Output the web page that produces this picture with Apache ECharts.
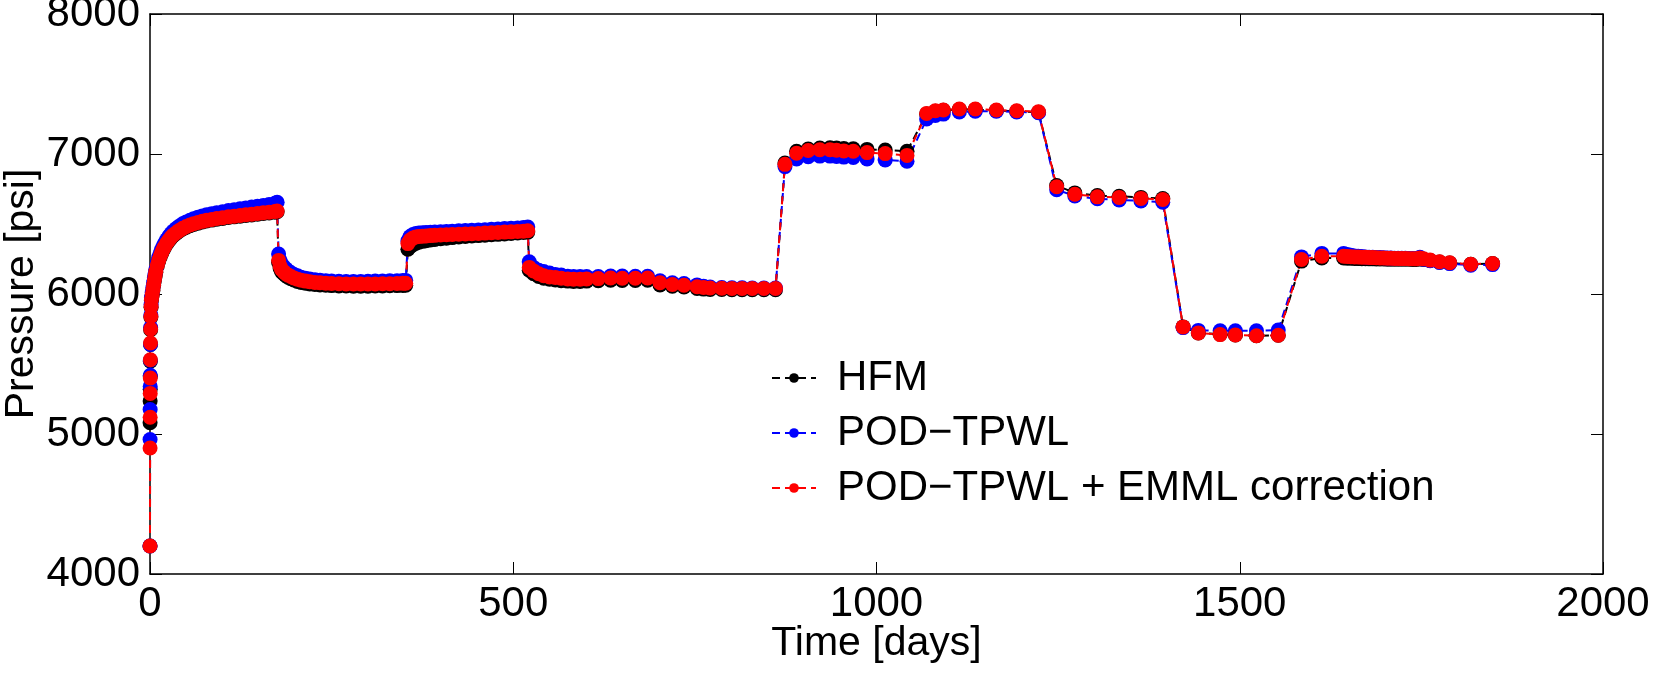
<!DOCTYPE html>
<html><head><meta charset="utf-8">
<script src="https://cdn.jsdelivr.net/npm/echarts@6/dist/echarts.min.js"></script>
<style>html,body{margin:0;padding:0;background:#fff}#c{width:1674px;height:684px}</style>
</head><body><div id="c"></div>
<script>
// ---- time steps (days), per control period ----
const daysP1 = [0, 0.1, 0.2, 0.3, 0.4, 0.5, 0.7, 0.9, 1.2, 1.5, 2, 3, 4, 5, 6, 7, 8, 10, 12, 14, 16, 18, 20, 23, 26, 29, 32, 36, 40, 45, 50, 55, 60, 66, 72, 78, 85, 92, 100, 108, 116, 124, 132, 140, 148, 156, 164, 172, 175];
const daysP2 = [177, 179, 181, 184, 187, 190, 194, 198, 203, 208, 214, 220, 227, 234, 242, 250, 260, 270, 280, 290, 300, 310, 320, 330, 340, 348, 352];
const daysP3 = [355, 358, 362, 366, 370, 375, 380, 386, 392, 400, 408, 416, 425, 434, 443, 452, 461, 470, 479, 488, 497, 506, 514, 520];
const daysP4 = [522, 528, 535, 542, 550, 558, 566, 575, 583, 592, 601, 617, 634, 650, 668, 685, 702, 719, 735, 753, 762, 771, 787, 801, 815, 829, 845, 861];
const daysP5 = [874, 890, 906, 922, 936, 945, 955, 968, 987, 1012, 1042];
const daysP6 = [1069, 1081, 1092, 1114, 1136, 1165, 1193, 1223];
const daysP7 = [1248, 1273, 1304, 1334, 1364, 1394];
const daysP8 = [1422, 1443, 1473, 1494, 1523, 1553];
const daysP9 = [1585, 1613, 1643, 1648, 1653, 1658, 1663, 1668, 1673, 1678, 1683, 1688, 1693, 1698, 1703, 1708, 1713, 1718, 1723, 1728, 1733, 1738, 1743, 1748, 1753, 1762, 1775, 1789, 1818, 1848];

// ---- HFM pressure (psi) ----
const hfmP1 = [4200, 5080, 5236, 5320, 5410, 5520, 5640, 5745, 5835, 5905, 5955, 5990, 6025, 6060, 6095, 6125, 6155, 6200, 6235, 6265, 6290, 6313, 6333, 6359, 6381, 6400, 6416, 6433, 6448, 6464, 6477, 6488, 6497, 6506, 6514, 6521, 6528, 6534, 6540, 6546, 6551, 6556, 6561, 6565, 6570, 6575, 6579, 6584, 6587];
const hfmP2 = [6225, 6185, 6160, 6145, 6130, 6120, 6110, 6100, 6090, 6083, 6077, 6072, 6068, 6065, 6062, 6060, 6058, 6057, 6056, 6056, 6056, 6057, 6058, 6059, 6060, 6061, 6062];
const hfmP3 = [6320, 6338, 6352, 6362, 6370, 6376, 6381, 6386, 6390, 6395, 6399, 6403, 6407, 6411, 6414, 6417, 6420, 6423, 6426, 6429, 6432, 6436, 6439, 6442];
const hfmP4 = [6170, 6145, 6125, 6112, 6105, 6100, 6095, 6092, 6090, 6090, 6092, 6095, 6098, 6097, 6097, 6098, 6065, 6055, 6050, 6040, 6035, 6033, 6032, 6030, 6030, 6030, 6030, 6030];
const hfmP5 = [6935, 7020, 7035, 7042, 7045, 7043, 7040, 7038, 7033, 7028, 7020];
const hfmP6 = [7285, 7305, 7312, 7318, 7318, 7310, 7305, 7298];
const hfmP7 = [6775, 6722, 6703, 6698, 6690, 6682];
const hfmP8 = [5765, 5722, 5712, 5708, 5702, 5705];
const hfmP9 = [6235, 6258, 6258, 6256, 6255, 6254, 6253, 6252, 6252, 6251, 6251, 6250, 6250, 6250, 6249, 6249, 6249, 6248, 6248, 6248, 6248, 6247, 6247, 6250, 6247, 6240, 6228, 6221, 6212, 6217];

// ---- POD-TPWL pressure (psi) ----
const podP1 = [4200, 4960, 5175, 5340, 5420, 5527, 5640, 5760, 5850, 5925, 5975, 6010, 6046, 6081, 6116, 6147, 6177, 6222, 6260, 6291, 6317, 6341, 6362, 6389, 6412, 6432, 6449, 6468, 6484, 6501, 6515, 6527, 6537, 6549, 6558, 6566, 6574, 6581, 6588, 6596, 6602, 6609, 6615, 6621, 6627, 6633, 6640, 6648, 6655];
const podP2 = [6285, 6240, 6215, 6195, 6180, 6165, 6152, 6140, 6130, 6120, 6113, 6107, 6102, 6098, 6095, 6093, 6091, 6090, 6090, 6090, 6091, 6092, 6093, 6094, 6095, 6096, 6097];
const podP3 = [6380, 6410, 6425, 6432, 6435, 6437, 6439, 6441, 6443, 6445, 6447, 6449, 6451, 6453, 6455, 6457, 6459, 6462, 6464, 6467, 6469, 6472, 6475, 6478];
const podP4 = [6230, 6190, 6170, 6160, 6150, 6140, 6135, 6127, 6125, 6125, 6125, 6125, 6128, 6128, 6127, 6126, 6095, 6080, 6075, 6065, 6055, 6050, 6046, 6045, 6044, 6043, 6042, 6042];
const podP5 = [6910, 6965, 6980, 6985, 6985, 6982, 6978, 6975, 6965, 6958, 6948];
const podP6 = [7250, 7275, 7285, 7300, 7305, 7305, 7300, 7295];
const podP7 = [6745, 6700, 6680, 6672, 6665, 6655];
const podP8 = [5760, 5740, 5738, 5738, 5738, 5742];
const podP9 = [6265, 6290, 6290, 6282, 6276, 6272, 6269, 6267, 6265, 6263, 6262, 6261, 6260, 6259, 6258, 6257, 6256, 6256, 6255, 6255, 6254, 6254, 6253, 6262, 6248, 6238, 6225, 6217, 6205, 6210];

// ---- POD-TPWL + EMML correction pressure (psi) ----
const emmlP1 = [4200, 4900, 5120, 5290, 5400, 5530, 5650, 5750, 5840, 5910, 5960, 5995, 6030, 6065, 6100, 6130, 6160, 6205, 6240, 6270, 6295, 6318, 6338, 6364, 6386, 6405, 6421, 6438, 6453, 6469, 6482, 6493, 6502, 6511, 6519, 6526, 6533, 6539, 6545, 6551, 6556, 6561, 6566, 6570, 6575, 6580, 6584, 6589, 6592];
const emmlP2 = [6240, 6200, 6175, 6160, 6145, 6135, 6125, 6115, 6105, 6098, 6092, 6087, 6083, 6080, 6077, 6075, 6073, 6072, 6071, 6071, 6071, 6072, 6073, 6074, 6075, 6076, 6077];
const emmlP3 = [6360, 6385, 6400, 6408, 6411, 6413, 6415, 6417, 6419, 6421, 6423, 6425, 6427, 6429, 6431, 6433, 6435, 6437, 6440, 6442, 6444, 6447, 6449, 6452];
const emmlP4 = [6190, 6165, 6145, 6130, 6122, 6118, 6112, 6108, 6105, 6105, 6108, 6110, 6114, 6112, 6112, 6114, 6080, 6068, 6063, 6052, 6046, 6043, 6041, 6040, 6040, 6040, 6040, 6040];
const emmlP5 = [6926, 7005, 7025, 7030, 7030, 7027, 7022, 7020, 7010, 7003, 6990];
const emmlP6 = [7290, 7309, 7314, 7321, 7321, 7314, 7309, 7302];
const emmlP7 = [6766, 6713, 6694, 6690, 6683, 6675];
const emmlP8 = [5765, 5722, 5710, 5708, 5702, 5705];
const emmlP9 = [6246, 6270, 6270, 6268, 6266, 6265, 6264, 6263, 6262, 6261, 6260, 6259, 6258, 6257, 6256, 6255, 6254, 6254, 6253, 6253, 6252, 6252, 6251, 6258, 6251, 6242, 6230, 6223, 6213, 6218];

const seriesNames = ['HFM', 'POD\u2212TPWL', 'POD\u2212TPWL + EMML correction'];

const days = [].concat(daysP1, daysP2, daysP3, daysP4, daysP5, daysP6, daysP7, daysP8, daysP9);
const hfm = [].concat(hfmP1, hfmP2, hfmP3, hfmP4, hfmP5, hfmP6, hfmP7, hfmP8, hfmP9);
const pod = [].concat(podP1, podP2, podP3, podP4, podP5, podP6, podP7, podP8, podP9);
const emml = [].concat(emmlP1, emmlP2, emmlP3, emmlP4, emmlP5, emmlP6, emmlP7, emmlP8, emmlP9);

const FONT = 'Liberation Sans, Arial, Helvetica, sans-serif';
function plain(v) { return String(v); }
function pairs(vals) { return days.map(function (d, i) { return [d, vals[i]]; }); }
function mkSeries(name, vals, color) {
  return {
    name: name, type: 'line', data: pairs(vals), symbol: 'circle', symbolSize: 15,
    clip: false, animation: false,
    itemStyle: { color: color },
    lineStyle: { color: color, width: 2, type: [8, 5] },
    emphasis: { disabled: true }
  };
}
function mkLegend(name, top) {
  return {
    data: [name], left: 771, top: top, padding: 0, itemWidth: 44, itemHeight: 12,
    selectedMode: false,
    textStyle: { fontFamily: FONT, fontSize: 42, color: '#000', padding: [0, 0, 0, 16] }
  };
}
const axisLineStyle = { color: '#000', width: 1.5 };
const chart = echarts.init(document.getElementById('c'), null, { renderer: 'canvas' });
chart.setOption({
  animation: false,
  backgroundColor: '#fff',
  grid: { left: 150, right: 71, top: 14, bottom: 110, containLabel: false, outerBoundsMode: 'none' },
  xAxis: [
    { type: 'value', min: 0, max: 2000, interval: 500,
      name: 'Time [days]', nameLocation: 'middle', nameGap: 49, nameMoveOverlap: false,
      nameTextStyle: { fontFamily: FONT, fontSize: 41, color: '#000' },
      axisLine: { show: true, onZero: false, lineStyle: axisLineStyle },
      axisTick: { show: true, inside: true, length: 12, lineStyle: { color: '#000', width: 1 } },
      axisLabel: { margin: 9, fontFamily: FONT, fontSize: 42, color: '#000', formatter: plain },
      splitLine: { show: false } },
    { type: 'value', position: 'top', min: 0, max: 2000, interval: 500,
      axisLine: { show: true, onZero: false, lineStyle: axisLineStyle },
      axisTick: { show: true, inside: true, length: 12, lineStyle: { color: '#000', width: 1 } },
      axisLabel: { show: false }, splitLine: { show: false } }
  ],
  yAxis: [
    { type: 'value', min: 4000, max: 8000, interval: 1000,
      name: 'Pressure [psi]', nameLocation: 'middle', nameGap: 108, nameMoveOverlap: false,
      nameTextStyle: { fontFamily: FONT, fontSize: 41, color: '#000' },
      axisLine: { show: true, onZero: false, lineStyle: axisLineStyle },
      axisTick: { show: true, inside: true, length: 12, lineStyle: { color: '#000', width: 1 } },
      axisLabel: { margin: 10, fontFamily: FONT, fontSize: 42, color: '#000', formatter: plain },
      splitLine: { show: false } },
    { type: 'value', position: 'right', min: 4000, max: 8000, interval: 1000,
      axisLine: { show: true, onZero: false, lineStyle: axisLineStyle },
      axisTick: { show: true, inside: true, length: 12, lineStyle: { color: '#000', width: 1 } },
      axisLabel: { show: false }, splitLine: { show: false } }
  ],
  legend: [mkLegend(seriesNames[0], 357), mkLegend(seriesNames[1], 412), mkLegend(seriesNames[2], 467)],
  series: [
    mkSeries(seriesNames[0], hfm, '#000000'),
    mkSeries(seriesNames[1], pod, '#0000ff'),
    mkSeries(seriesNames[2], emml, '#ff0000')
  ]
});
</script></body></html>
